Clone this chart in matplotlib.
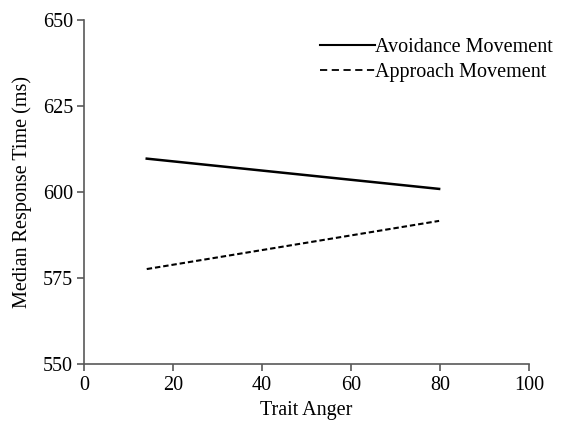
import matplotlib
matplotlib.use('Agg')
import matplotlib.pyplot as plt
from matplotlib.lines import Line2D

# trait anger endpoints (simple slopes, low vs high)
trait_anger = [14.1, 79.8]
avoidance_rt = [609.7, 600.9]
approach_rt = [577.6, 591.6]

x_ticks = [0, 20, 40, 60, 80, 100]
y_ticks = [550, 575, 600, 625, 650]

plt.rcParams['font.family'] = ['Liberation Serif', 'DejaVu Serif']
plt.rcParams['font.size'] = 14.5

axis_grey = '#595959'

fig = plt.figure(figsize=(5.64, 4.21), dpi=100)
ax = fig.add_axes([84 / 564, 57 / 421, 445 / 564, 344 / 421])

ax.plot(trait_anger, avoidance_rt, color='black', lw=1.8, linestyle='-')
ax.plot(trait_anger, approach_rt, color='black', lw=1.5, linestyle=(0, (2.6, 1.4)))

ax.set_xlim(0, 100)
ax.set_ylim(550, 650)
ax.set_xticks(x_ticks)
ax.set_yticks(y_ticks)
# label sits right at the bottom edge in the original, keep it just inside
ax.set_xlabel('Trait Anger', labelpad=4)
ax.set_ylabel('Median Response Time (ms)', labelpad=7.5)

ax.spines['top'].set_visible(False)
ax.spines['right'].set_visible(False)
for side in ['left', 'bottom']:
    ax.spines[side].set_color(axis_grey)
    ax.spines[side].set_linewidth(1.2)
ax.tick_params(direction='out', length=5, width=1.2, color=axis_grey)
ax.tick_params(axis='x', pad=4)
ax.tick_params(axis='y', pad=3)

# legend samples drawn like the original (longer dashes than in the plot)
handles = [Line2D([], [], color='black', lw=1.5, linestyle='-'),
           Line2D([], [], color='black', lw=1.3, linestyle=(0, (4, 2.5)))]
labels = ['Avoidance Movement', 'Approach Movement']
fig.legend(handles, labels, loc='upper left', bbox_to_anchor=(320 / 564, 1 - 38 / 421),
           frameon=False, handlelength=2.75, handletextpad=0.0, labelspacing=0.3,
           borderpad=0, borderaxespad=0)

fig.savefig('out.png', dpi=100)
